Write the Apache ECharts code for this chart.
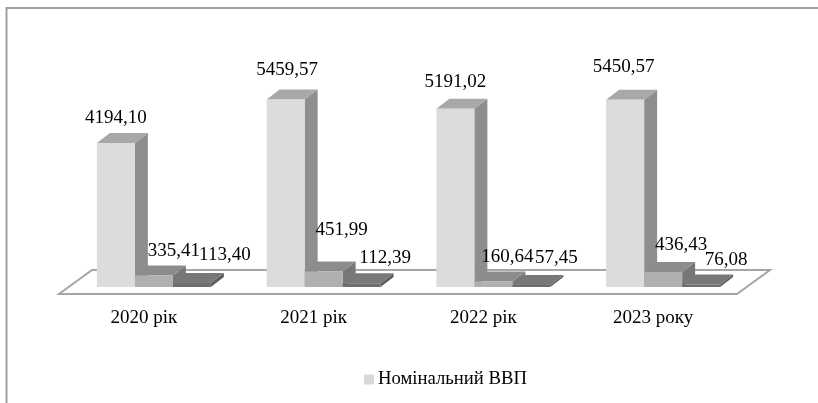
<!DOCTYPE html>
<html>
<head>
<meta charset="utf-8">
<style>
  html, body { margin: 0; padding: 0; background: #fff; }
  #chart { width: 818px; height: 403px; }
</style>
</head>
<body>
<div id="chart"></div>
<script src="https://cdn.jsdelivr.net/npm/echarts@6/dist/echarts.min.js"></script>
<script>
const years = ['2020 рік', '2021 рік', '2022 рік', '2023 року']
const nominalGdp = [4194.10, 5459.57, 5191.02, 5450.57]
const secondValues = [335.41, 451.99, 160.64, 436.43]
const thirdValues = [113.40, 112.39, 57.45, 76.08]

// hand placed labels in the original, offset from the centre of the bar top
const nominalLabelShift = [[0, -25], [1.5, -30], [0, -27], [-1.5, -33]]
const secondLabelShift = [[20, -24], [18, -41], [14, -24], [18, -27]]
const thirdLabelShift = [[33, -28], [23.5, -25], [25, -27], [25, -24]]

const BAR_W = 38
const DEPTH_X = 13
const DEPTH_Y = -10
const FONT = '"Liberation Serif", "Times New Roman", serif'

const fmt = (v) => v.toFixed(2).replace('.', ',')

const barSeries = (name, values, slot, shifts, colors) => ({
  name,
  type: 'custom',
  data: values.map((v, i) => [i, v]),
  encode: { x: 0, y: 1 },
  renderItem: (params, api) => {
    const i = api.value(0)
    const top = api.coord([i, api.value(1)])
    const base = api.coord([i, 0])
    const x0 = top[0] + (slot - 1.5) * BAR_W
    const x1 = x0 + BAR_W
    const y0 = top[1]
    const y1 = base[1]
    const shift = shifts[i]
    return {
      type: 'group',
      children: [
        {
          type: 'polygon',
          z2: 1,
          shape: { points: [[x1, y0], [x1 + DEPTH_X, y0 + DEPTH_Y], [x1 + DEPTH_X, y1 + DEPTH_Y], [x1, y1]] },
          style: { fill: colors.side },
        },
        {
          type: 'polygon',
          z2: 1,
          shape: { points: [[x0, y0], [x0 + DEPTH_X, y0 + DEPTH_Y], [x1 + DEPTH_X, y0 + DEPTH_Y], [x1, y0]] },
          style: { fill: colors.top },
        },
        {
          type: 'rect',
          z2: 1,
          shape: { x: x0, y: y0, width: BAR_W, height: y1 - y0 },
          style: { fill: colors.front },
        },
        {
          type: 'text',
          z2: 100,
          x: x0 + BAR_W / 2 + shift[0],
          y: y0 + shift[1],
          style: {
            text: fmt(api.value(1)),
            font: '19px ' + FONT,
            fill: '#000',
            align: 'center',
            verticalAlign: 'middle',
          },
        },
      ],
    }
  },
})

const floorSeries = {
  name: 'floor',
  type: 'custom',
  silent: true,
  z: 1,
  data: [[0, 0]],
  encode: { x: 0, y: 1 },
  renderItem: (params) => {
    const c = params.coordSys
    const y = c.y + c.height
    return {
      type: 'polygon',
      shape: { points: [[c.x - 10, y + 7], [c.x + c.width - 11, y + 7], [c.x + c.width + 22, y - 17], [c.x + 23, y - 17]] },
      style: { fill: '#fff', stroke: '#a6a6a6', lineWidth: 2 },
    }
  },
}

const chart = echarts.init(document.getElementById('chart'), null, { renderer: 'canvas' })

chart.setOption({
  animation: false,
  backgroundColor: '#fff',
  graphic: [
    {
      type: 'polyline',
      shape: { points: [[6.5, 403], [6.5, 8], [818, 8]] },
      style: { stroke: '#a0a0a0', lineWidth: 2, fill: 'none' },
    },
  ],
  legend: {
    data: [{ name: 'Номінальний ВВП', icon: 'rect', itemStyle: { color: '#d9d9d9' } }],
    left: 360,
    top: 370,
    itemWidth: 10,
    itemHeight: 10,
    itemGap: 4,
    padding: [0, 0, 0, 4],
    selectedMode: false,
    textStyle: { fontFamily: FONT, fontSize: 18.7, color: '#000', padding: [0, 0, 0, -1] },
  },
  grid: { left: 69, right: 70, top: 81, height: 206 },
  xAxis: {
    type: 'category',
    data: years,
    axisLine: { show: false },
    axisTick: { show: false },
    axisLabel: { color: '#000', fontFamily: FONT, fontSize: 19, margin: 22, padding: [0, 20, 0, 0] },
  },
  yAxis: { type: 'value', min: 0, max: 6000, show: false },
  series: [
    floorSeries,
    barSeries('Номінальний ВВП', nominalGdp, 0, nominalLabelShift, { front: '#dcdcdc', side: '#8e8e8e', top: '#a8a8a8' }),
    barSeries('Показник 2', secondValues, 1, secondLabelShift, { front: '#b0b0b0', side: '#777777', top: '#8c8c8c' }),
    barSeries('Показник 3', thirdValues, 2, thirdLabelShift, { front: '#6e6e6e', side: '#5e5e5e', top: '#787878' }),
  ],
})
</script>
</body>
</html>
